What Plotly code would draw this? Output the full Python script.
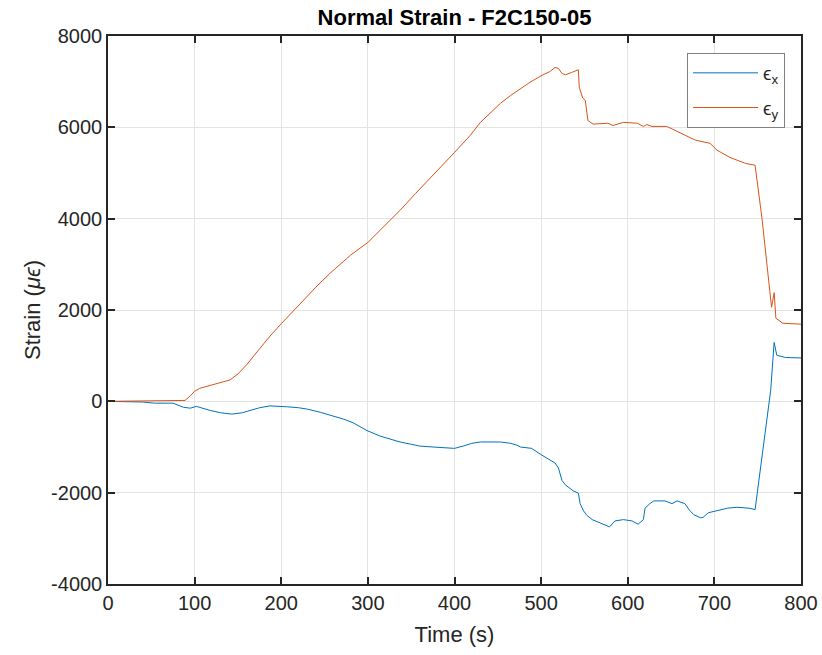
import plotly.graph_objects as go

# Time (s) and strain values (micro-strain)
t_x = [0, 20, 40, 54, 75, 87, 95, 102, 118, 130, 143, 155, 164, 175, 187, 200, 207, 220, 230, 245,
       260, 272, 283, 299, 314, 325, 337, 350, 360, 375, 391, 400, 410, 420, 430, 453, 465, 472, 476, 489,
       501, 510, 516, 520, 524, 528, 533, 537, 543, 545, 549, 553, 559, 568, 579, 585, 595, 605, 612, 618,
       620, 625, 630, 643, 651, 657, 666, 671, 676, 684, 687, 693, 703, 715, 726, 740, 747, 757, 762, 765,
       769, 772, 782, 800]
eps_x = [0, 0, -15, -40, -40, -130, -150, -110, -200, -250, -280, -250, -200, -140, -100, -105, -120, -140, -170, -240,
         -320, -390, -470, -640, -760, -830, -890, -940, -980, -1000, -1020, -1030, -980, -920, -890, -890, -920, -960, -1000, -1030,
         -1180, -1280, -1350, -1460, -1730, -1830, -1900, -1960, -2010, -2240, -2400, -2500, -2590, -2670, -2750, -2620, -2590, -2620, -2690, -2590,
         -2340, -2250, -2180, -2180, -2240, -2180, -2240, -2380, -2480, -2550, -2540, -2440, -2400, -2340, -2320, -2340, -2370, -900, -150, 240,
         1290, 1010, 960, 950]

t_y = [0, 30, 60, 89, 95, 100, 106, 120, 141, 150, 160, 175, 188, 200, 222, 240, 256, 280, 300, 320,
       337, 355, 372, 385, 400, 418, 430, 440, 453, 465, 487, 501, 510, 516, 520, 524, 528, 535, 543, 544,
       548, 551, 554, 560, 577, 583, 595, 611, 618, 622, 628, 645, 652, 665, 678, 695, 703, 718, 736, 747,
       755, 766, 769, 771, 779, 800]
eps_y = [0, 10, 15, 20, 120, 220, 285, 360, 470, 600, 800, 1150, 1450, 1700, 2150, 2500, 2800, 3200, 3480, 3850,
         4180, 4550, 4900, 5150, 5450, 5820, 6110, 6300, 6525, 6700, 6985, 7140, 7220, 7310, 7290, 7180, 7150, 7200, 7260, 6880,
         6640, 6590, 6150, 6070, 6090, 6040, 6110, 6090, 6020, 6060, 6020, 6020, 5960, 5840, 5720, 5650, 5500, 5340, 5210, 5170,
         4000, 2060, 2380, 1820, 1710, 1690]

x_ticks = [0, 100, 200, 300, 400, 500, 600, 700, 800]
y_ticks = [-4000, -2000, 0, 2000, 4000, 6000, 8000]
y_tick_text = ["-4000", "-2000", "0", "2000", "4000", "6000", "8000"]

FONT = "Liberation Sans, Arial, sans-serif"
AX = "#262626"

fig = go.Figure()
fig.add_trace(go.Scatter(x=t_x, y=eps_x, mode="lines", name="ϵ<sub>x</sub>", legendgroup="a",
                         line=dict(color="#0072BD", width=1)))
fig.add_trace(go.Scatter(x=t_y, y=eps_y, mode="lines", name="ϵ<sub>y</sub>", legendgroup="b",
                         line=dict(color="#D95319", width=1)))

axis_common = dict(showline=True, linecolor=AX, linewidth=1.5, mirror="ticks",
                   ticks="inside", ticklen=7, tickcolor=AX, tickwidth=1.5,
                   showgrid=True, gridcolor="#e3e3e3", gridwidth=1, zeroline=False,
                   automargin=False,
                   tickfont=dict(family=FONT, size=20, color=AX))

fig.update_layout(
    template="none",
    width=822, height=655,
    paper_bgcolor="white", plot_bgcolor="white",
    margin=dict(l=108, r=21, t=36, b=71, autoexpand=False),
    title=dict(text="<b>Normal Strain - F2C150-05</b>", x=(108 + 801) / 2 / 822, xanchor="center",
               y=1 - 17 / 655, yanchor="middle", font=dict(family=FONT, size=22, color="black")),
    xaxis=dict(range=[0, 800], tickvals=x_ticks,
               title=dict(text="Time (s)", font=dict(family=FONT, size=22, color=AX), standoff=14),
               **axis_common),
    yaxis=dict(range=[-4000, 8000], tickvals=y_ticks, ticktext=y_tick_text,
               title=dict(text="Strain (<i>μϵ</i>)", font=dict(family=FONT, size=22, color=AX), standoff=4),
               **axis_common),
    legend=dict(x=0.977, y=0.969, xanchor="right", yanchor="top",
                bgcolor="white", bordercolor="#808080", borderwidth=1,
                font=dict(family=FONT, size=19, color=AX), tracegroupgap=7, itemwidth=65),
    showlegend=True,
)

fig.write_html("out.html", config={"displayModeBar": False},
               post_script="document.body.style.margin='0';document.body.style.padding='0';")
